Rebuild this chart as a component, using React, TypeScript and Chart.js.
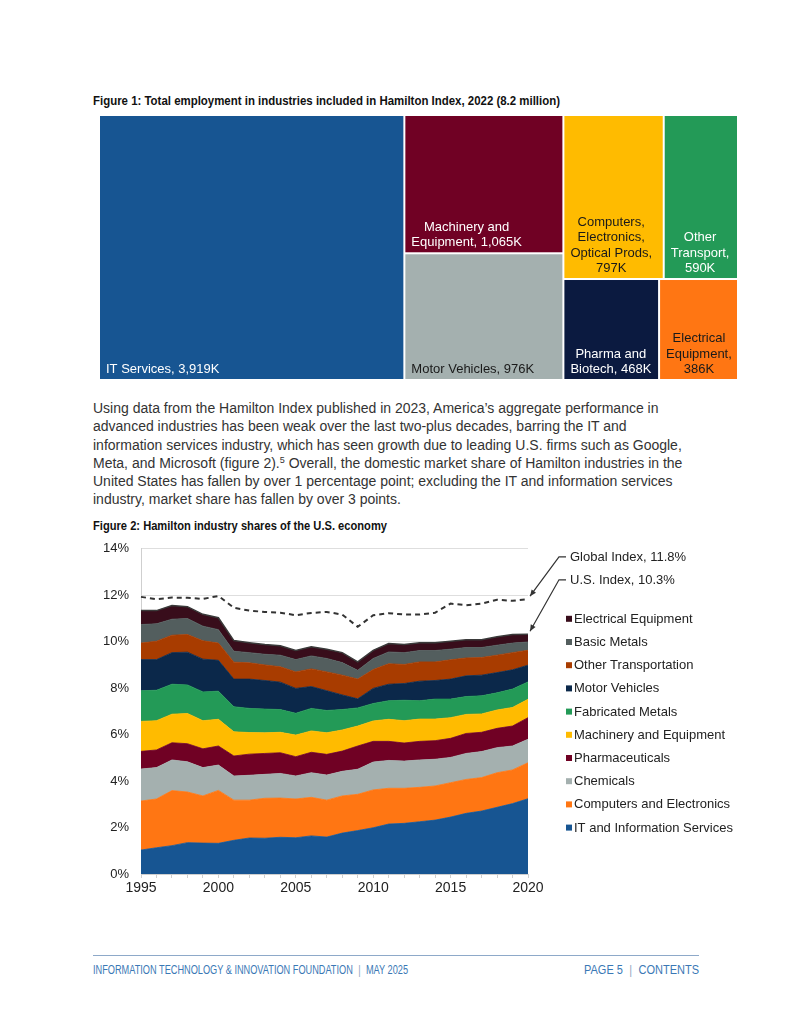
import React, { useEffect, useLayoutEffect, useRef } from "react";
import { Chart, registerables } from "chart.js";
Chart.register(...registerables);

const SANS = '"Liberation Sans", Arial, sans-serif';

// ---------- Figure 1: treemap data ----------
const treeCategories = [
  "IT Services",
  "Machinery and Equipment",
  "Motor Vehicles",
  "Computers, Electronics, Optical Prods",
  "Other Transport",
  "Pharma and Biotech",
  "Electrical Equipment",
];
const treeValues = [3919, 1065, 976, 797, 590, 468, 386];
const treeLabelLines = [
  ["IT Services, {v}"],
  ["Machinery and", "Equipment, {v}"],
  ["Motor Vehicles, {v}"],
  ["Computers,", "Electronics,", "Optical Prods,", "{v}"],
  ["Other", "Transport,", "{v}"],
  ["Pharma and", "Biotech, {v}"],
  ["Electrical", "Equipment,", "{v}"],
];
const treeColors = ["#175592", "#700124", "#A4B0AF", "#FFBB00", "#239A57", "#0B1A40", "#FF7613"];
const treeTextColors = ["#ffffff", "#ffffff", "#1a1a1a", "#1a1a1a", "#ffffff", "#ffffff", "#1a1a1a"];
// grouping of the cells (alternating horizontal / vertical splits)
const treeGroups: any = [0, [1, 2], [[3, 4], [5, 6]]];

// ---------- Figure 2: stacked area data ----------
const years = [
  "1995", "1996", "1997", "1998", "1999", "2000", "2001", "2002", "2003", "2004", "2005", "2006", "2007",
  "2008", "2009", "2010", "2011", "2012", "2013", "2014", "2015", "2016", "2017", "2018", "2019", "2020",
];
const itServices = [1.03, 1.13, 1.22, 1.35, 1.33, 1.32, 1.45, 1.55, 1.54, 1.58, 1.56, 1.64, 1.59, 1.76, 1.87, 1.99, 2.15, 2.18, 2.25, 2.32, 2.45, 2.61, 2.71, 2.87, 3.03, 3.24];
const computers = [2.11, 2.10, 2.37, 2.18, 2.03, 2.28, 1.73, 1.63, 1.72, 1.69, 1.67, 1.66, 1.59, 1.60, 1.56, 1.63, 1.54, 1.51, 1.48, 1.47, 1.48, 1.46, 1.44, 1.49, 1.45, 1.55];
const chemicals = [1.38, 1.35, 1.32, 1.30, 1.22, 1.09, 1.04, 1.07, 1.03, 1.06, 0.99, 1.06, 1.08, 1.06, 1.08, 1.20, 1.20, 1.17, 1.18, 1.15, 1.09, 1.12, 1.12, 1.08, 1.03, 1.01];
const pharma = [0.76, 0.76, 0.74, 0.78, 0.81, 0.82, 0.86, 0.91, 0.90, 0.89, 0.83, 0.88, 0.89, 0.87, 1.00, 0.89, 0.82, 0.78, 0.80, 0.80, 0.82, 0.86, 0.83, 0.83, 0.86, 0.93];
const machinery = [1.29, 1.26, 1.23, 1.30, 1.21, 1.15, 1.04, 0.93, 0.89, 0.88, 0.93, 0.92, 0.93, 0.91, 0.86, 0.88, 0.95, 0.96, 0.96, 0.93, 0.89, 0.82, 0.79, 0.79, 0.80, 0.79];
const fabricated = [1.32, 1.31, 1.29, 1.23, 1.24, 1.21, 1.08, 1.04, 1.02, 0.98, 0.94, 0.97, 0.96, 0.88, 0.78, 0.75, 0.80, 0.88, 0.79, 0.86, 0.80, 0.77, 0.78, 0.74, 0.79, 0.75];
const motorVehicles = [1.34, 1.32, 1.36, 1.41, 1.41, 1.33, 1.19, 1.26, 1.23, 1.18, 1.07, 0.94, 0.85, 0.63, 0.39, 0.65, 0.71, 0.72, 0.84, 0.80, 0.86, 0.89, 0.89, 0.87, 0.83, 0.72];
const otherTransport = [0.71, 0.79, 0.75, 0.76, 0.79, 0.74, 0.73, 0.70, 0.67, 0.66, 0.71, 0.76, 0.81, 0.85, 0.85, 0.81, 0.88, 0.82, 0.83, 0.80, 0.83, 0.77, 0.76, 0.75, 0.74, 0.64];
const basicMetals = [0.80, 0.75, 0.69, 0.69, 0.63, 0.58, 0.47, 0.44, 0.46, 0.50, 0.53, 0.56, 0.58, 0.54, 0.38, 0.48, 0.51, 0.51, 0.49, 0.49, 0.46, 0.45, 0.43, 0.43, 0.41, 0.36];
const electrical = [0.60, 0.57, 0.59, 0.51, 0.51, 0.51, 0.46, 0.43, 0.42, 0.41, 0.39, 0.39, 0.40, 0.43, 0.36, 0.35, 0.36, 0.35, 0.34, 0.34, 0.34, 0.33, 0.33, 0.36, 0.37, 0.33];
const globalIndex = [11.93, 11.83, 11.90, 11.89, 11.84, 11.97, 11.46, 11.34, 11.28, 11.25, 11.14, 11.24, 11.28, 11.17, 10.64, 11.14, 11.23, 11.17, 11.17, 11.25, 11.64, 11.57, 11.64, 11.81, 11.76, 11.83];

const seriesNames = [
  "IT and Information Services",
  "Computers and Electronics",
  "Chemicals",
  "Pharmaceuticals",
  "Machinery and Equipment",
  "Fabricated Metals",
  "Motor Vehicles",
  "Other Transportation",
  "Basic Metals",
  "Electrical Equipment",
];
const seriesValues = [itServices, computers, chemicals, pharma, machinery, fabricated, motorVehicles, otherTransport, basicMetals, electrical];
const seriesColors = ["#175592", "#FF7613", "#A4B0AF", "#700124", "#FFBB00", "#239A57", "#0B284A", "#A83C00", "#535E5E", "#380D1B"];
const yTicks = [0, 2, 4, 6, 8, 10, 12, 14];

function sumNode(node: any): number {
  if (typeof node === "number") return treeValues[node];
  return node.reduce((s: number, c: any) => s + sumNode(c), 0);
}
function layoutNode(node: any, x: number, y: number, w: number, h: number, depth: number, out: any[]) {
  if (typeof node === "number") {
    out[node] = { x, y, w, h };
    return;
  }
  const total = sumNode(node);
  let off = 0;
  node.forEach((child: any) => {
    const f = sumNode(child) / total;
    if (depth % 2 === 0) layoutNode(child, x + off * w, y, f * w, h, depth + 1, out);
    else layoutNode(child, x, y + off * h, w, f * h, depth + 1, out);
    off += f;
  });
}
const fmtK = (v: number) => v.toLocaleString("en-US") + "K";

// Text squeezed horizontally to a given width (the original uses a condensed face)
function FitText(props: { left: number; top: number; width: number; style: React.CSSProperties; children: any }) {
  const ref = useRef<HTMLSpanElement>(null);
  useLayoutEffect(() => {
    const el = ref.current!;
    el.style.transform = "none";
    const w = el.getBoundingClientRect().width;
    if (w > 0) el.style.transform = `scaleX(${props.width / w})`;
  });
  return (
    <span
      ref={ref}
      style={{
        position: "absolute",
        left: props.left,
        top: props.top,
        whiteSpace: "nowrap",
        transformOrigin: "0 0",
        display: "inline-block",
        ...props.style,
      }}
    >
      {props.children}
    </span>
  );
}

function Treemap() {
  const ref = useRef<HTMLCanvasElement>(null);
  useEffect(() => {
    const cellPlugin = {
      id: "treemapCells",
      afterDatasetsDraw(chart: any) {
        const { ctx } = chart;
        const xs = chart.scales.x;
        const ys = chart.scales.y;
        const rects: any[] = [];
        layoutNode(treeGroups, 0, 0, 1, 1, 0, rects);
        ctx.save();
        rects.forEach((r, i) => {
          const x0 = xs.getPixelForValue(r.x) + 1;
          const x1 = xs.getPixelForValue(r.x + r.w) - 1;
          const y0 = ys.getPixelForValue(r.y) + 1;
          const y1 = ys.getPixelForValue(r.y + r.h) - 1;
          ctx.fillStyle = treeColors[i];
          ctx.fillRect(x0, y0, x1 - x0, y1 - y0);
          const lines = treeLabelLines[i].map((l) => l.replace("{v}", fmtK(treeValues[i])));
          ctx.font = `13px ${SANS}`;
          ctx.fillStyle = treeTextColors[i];
          ctx.textBaseline = "alphabetic";
          const bw = Math.max(...lines.map((l) => ctx.measureText(l).width));
          const cx = x0 + 6 + bw / 2;
          ctx.textAlign = "center";
          const lh = 15.5;
          lines.forEach((l, k) => {
            const by = y1 - 6 - (lines.length - 1 - k) * lh;
            ctx.fillText(l, cx, by);
          });
        });
        ctx.restore();
      },
    };
    const chart = new Chart(ref.current!, {
      type: "scatter",
      data: { labels: treeCategories, datasets: [{ label: "Employment", data: [] }] },
      options: {
        animation: false,
        responsive: false,
        maintainAspectRatio: false,
        layout: { padding: 0 },
        plugins: { legend: { display: false }, tooltip: { enabled: false } },
        scales: {
          x: { type: "linear", min: 0, max: 1, display: false },
          y: { type: "linear", min: 0, max: 1, reverse: true, display: false },
        },
      },
      plugins: [cellPlugin],
    } as any);
    return () => chart.destroy();
  }, []);
  return (
    <canvas
      ref={ref}
      width={639}
      height={265}
      style={{ position: "absolute", left: 99, top: 115, width: 639, height: 265 }}
    />
  );
}

function AreaChart() {
  const ref = useRef<HTMLCanvasElement>(null);
  useEffect(() => {
    const extras = {
      id: "legendAndNotes",
      afterDraw(chart: any) {
        const { ctx, chartArea } = chart;
        const xs = chart.scales.x;
        const ys = chart.scales.y;
        ctx.save();
        // legend (reverse order)
        ctx.font = `13px ${SANS}`;
        ctx.textBaseline = "middle";
        ctx.textAlign = "left";
        const n = seriesNames.length;
        for (let k = 0; k < n; k++) {
          const i = n - 1 - k;
          const cy = chartArea.top + 70 + k * 23.2;
          const sx = chartArea.right + 38;
          ctx.fillStyle = seriesColors[i];
          ctx.fillRect(sx, cy - 3, 6, 6);
          ctx.fillStyle = "#222";
          ctx.fillText(seriesNames[i], sx + 8, cy + 0.5);
        }
        // annotations
        const last = years.length - 1;
        const gVal = globalIndex[last];
        const usVal = seriesValues.reduce((s, arr) => s + arr[last], 0);
        const notes = [
          { text: `Global Index, ${gVal.toFixed(1)}%`, ty: chartArea.top + 8, val: gVal },
          { text: `U.S. Index, ${usVal.toFixed(1)}%`, ty: chartArea.top + 31, val: usVal },
        ];
        const tx = chartArea.right + 42;
        notes.forEach((nt) => {
          const px = xs.getPixelForValue(last) + 2;
          const py = ys.getPixelForValue(nt.val) - 3;
          ctx.strokeStyle = "#333";
          ctx.lineWidth = 1.2;
          ctx.beginPath();
          ctx.moveTo(tx - 4, nt.ty);
          ctx.lineTo(tx - 11, nt.ty);
          ctx.lineTo(px, py);
          ctx.stroke();
          const ang = Math.atan2(py - nt.ty, px - (tx - 11));
          const al = 7;
          ctx.fillStyle = "#333";
          ctx.beginPath();
          ctx.moveTo(px, py);
          ctx.lineTo(px - al * Math.cos(ang - 0.4), py - al * Math.sin(ang - 0.4));
          ctx.lineTo(px - al * Math.cos(ang + 0.4), py - al * Math.sin(ang + 0.4));
          ctx.closePath();
          ctx.fill();
          ctx.fillStyle = "#222";
          ctx.font = `13px ${SANS}`;
          ctx.textBaseline = "middle";
          ctx.fillText(nt.text, tx, nt.ty + 0.5);
        });
        ctx.restore();
      },
    };
    const datasets: any[] = seriesNames.map((name, i) => ({
      label: name,
      data: seriesValues[i],
      backgroundColor: seriesColors[i],
      borderColor: i === seriesNames.length - 1 ? "#3a3a3a" : seriesColors[i],
      borderWidth: i === seriesNames.length - 1 ? 1.5 : 0.8,
      fill: i === 0 ? "origin" : "-1",
      pointRadius: 0,
      tension: 0,
      stack: "us",
    }));
    datasets.push({
      label: "Global Index",
      data: globalIndex,
      borderColor: "#333",
      borderWidth: 2,
      borderDash: [5, 4],
      fill: false,
      pointRadius: 0,
      tension: 0,
      stack: "global",
    });
    const chart = new Chart(ref.current!, {
      type: "line",
      data: { labels: years, datasets },
      options: {
        animation: false,
        responsive: false,
        maintainAspectRatio: false,
        layout: { padding: { top: 0, right: 240, left: 0, bottom: 0 } },
        plugins: { legend: { display: false }, tooltip: { enabled: false } },
        scales: {
          x: {
            type: "category",
            offset: false,
            afterFit: (s: any) => {
              s.height = 34;
            },
            grid: { drawOnChartArea: false, drawTicks: true, tickLength: 4, color: "#cfcfcf" },
            border: { color: "#cfcfcf" },
            ticks: {
              autoSkip: false,
              maxRotation: 0,
              padding: 2,
              color: "#222",
              font: { family: SANS, size: 14 },
              callback: function (this: any, v: any) {
                const lab = this.getLabelForValue(v);
                return Number(lab) % 5 === 0 ? lab : "";
              },
            },
          },
          y: {
            stacked: true,
            min: 0,
            max: 14,
            afterFit: (s: any) => {
              s.width = 53;
            },
            afterBuildTicks: (s: any) => {
              s.ticks = yTicks.map((v) => ({ value: v }));
            },
            grid: { color: "#dedede", drawTicks: false },
            border: { color: "#cfcfcf" },
            ticks: {
              padding: 12,
              color: "#222",
              font: { family: SANS, size: 13 },
              callback: (v: any) => v + "%",
            },
          },
        },
      },
      plugins: [extras],
    } as any);
    return () => chart.destroy();
  }, []);
  return (
    <canvas
      ref={ref}
      width={680}
      height={379}
      style={{ position: "absolute", left: 88, top: 529, width: 680, height: 379 }}
    />
  );
}

export default function App() {
  const titleStyle: React.CSSProperties = {
    fontFamily: SANS,
    fontWeight: "bold",
    fontSize: 12.5,
    lineHeight: "14px",
    color: "#111",
  };
  const footStyle: React.CSSProperties = {
    fontFamily: SANS,
    fontSize: 12,
    lineHeight: "14px",
    color: "#3a78b5",
  };
  const sep = <span style={{ margin: "0 7px", color: "#8fa6bf" }}>|</span>;
  return (
    <div style={{ position: "absolute", left: 0, top: 0, width: 791, height: 1024, background: "#fff" }}>
      <FitText left={93} top={94} width={467} style={titleStyle}>
        Figure 1: Total employment in industries included in Hamilton Index, 2022 (8.2 million)
      </FitText>
      <Treemap />
      <div
        style={{
          position: "absolute",
          left: 93,
          top: 399,
          fontFamily: SANS,
          fontSize: 14,
          lineHeight: "18.3px",
          color: "#333",
          whiteSpace: "nowrap",
        }}
      >
        Using data from the Hamilton Index published in 2023, America’s aggregate performance in
        <br />
        advanced industries has been weak over the last two-plus decades, barring the IT and
        <br />
        information services industry, which has seen growth due to leading U.S. firms such as Google,
        <br />
        Meta, and Microsoft (figure 2).
        <sup style={{ fontSize: 9, lineHeight: 0, verticalAlign: "5px" }}>5</sup> Overall, the domestic market share of
        Hamilton industries in the
        <br />
        United States has fallen by over 1 percentage point; excluding the IT and information services
        <br />
        industry, market share has fallen by over 3 points.
      </div>
      <FitText left={93} top={519} width={294} style={titleStyle}>
        Figure 2: Hamilton industry shares of the U.S. economy
      </FitText>
      <AreaChart />
      <div style={{ position: "absolute", left: 93, top: 955, width: 606, height: 0, borderTop: "1px solid #8ea9c9" }} />
      <FitText left={93} top={963} width={315} style={footStyle}>
        INFORMATION TECHNOLOGY &amp; INNOVATION FOUNDATION{sep}MAY 2025
      </FitText>
      <FitText left={584} top={963} width={115} style={footStyle}>
        PAGE 5{sep}CONTENTS
      </FitText>
    </div>
  );
}
